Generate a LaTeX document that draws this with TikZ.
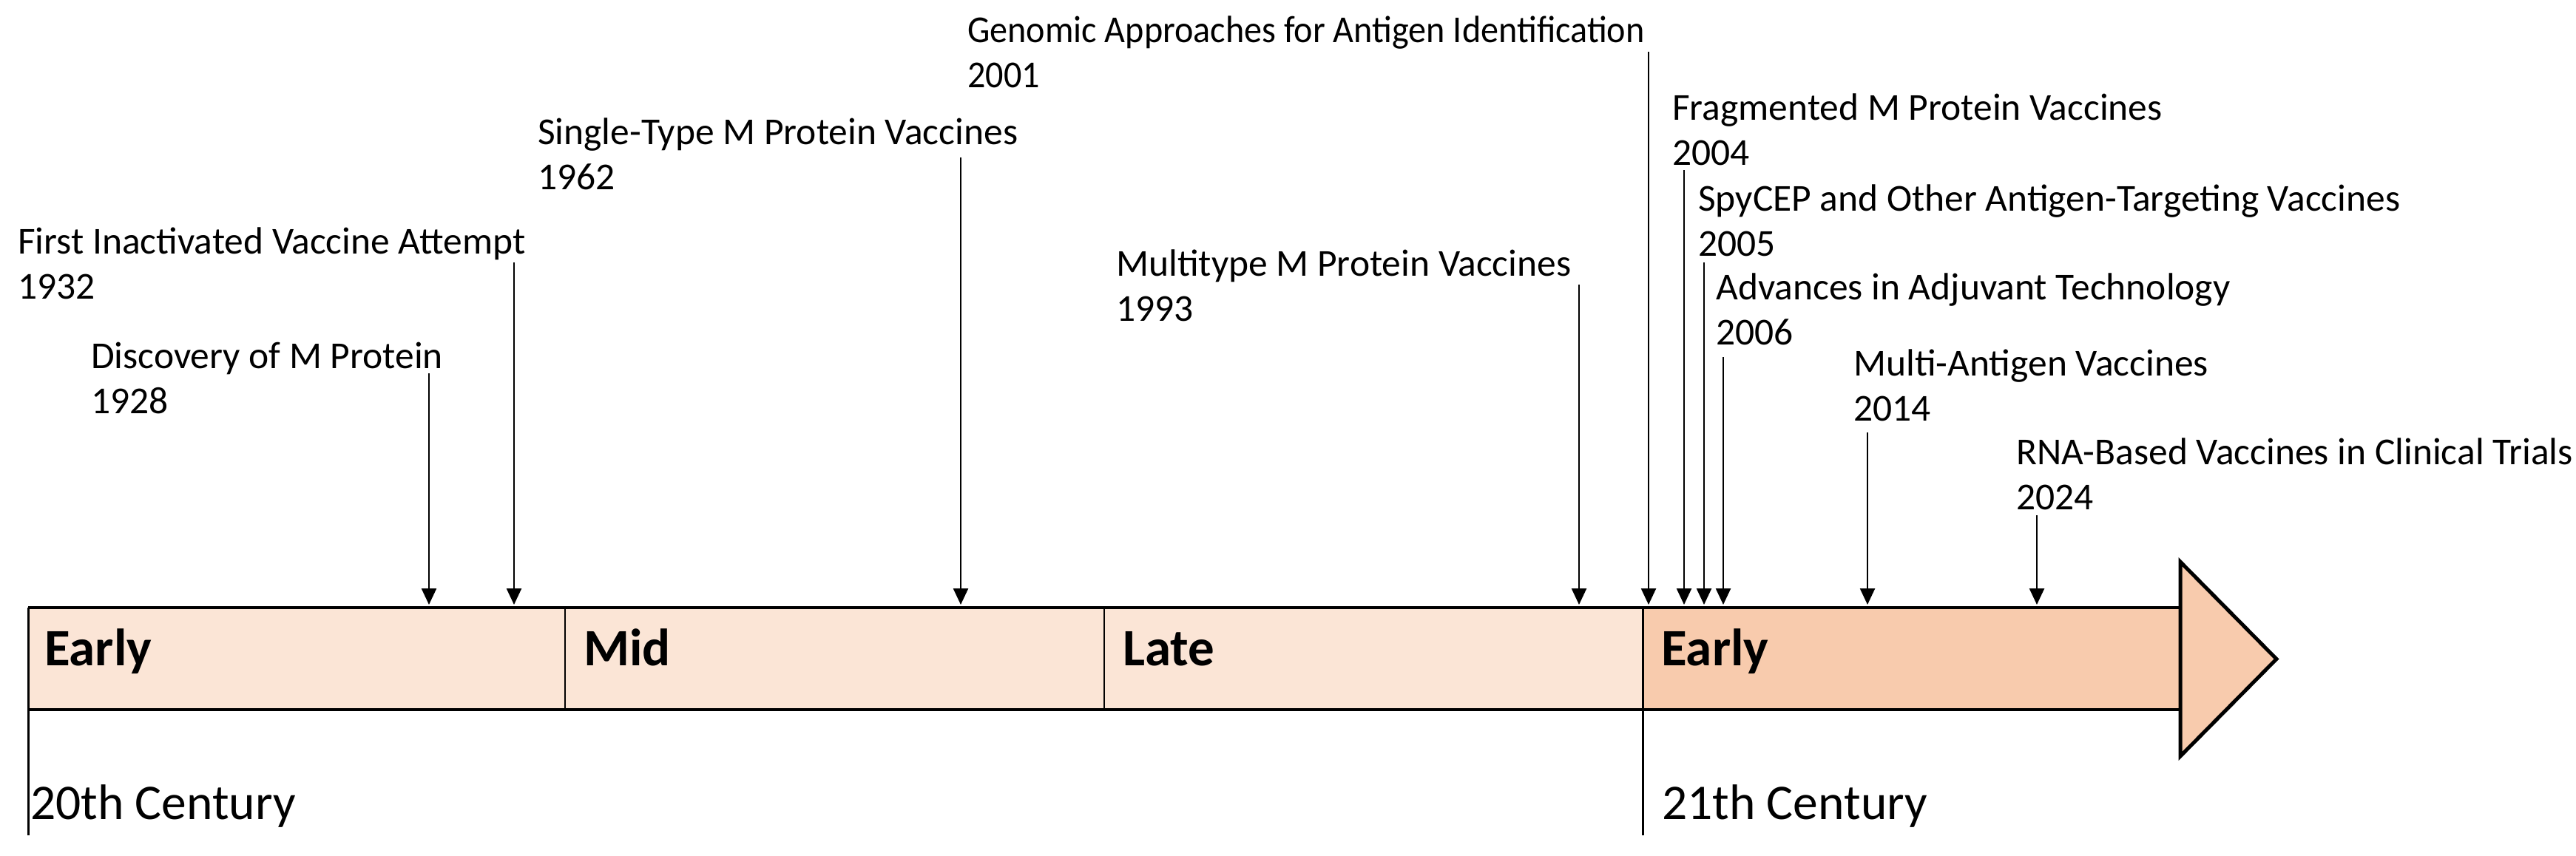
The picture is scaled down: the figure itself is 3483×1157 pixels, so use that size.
\documentclass[tikz,border=0pt]{standalone}
\usepackage{fontspec}
\usepackage{graphicx}
\setmainfont{Carlito}
\usetikzlibrary{arrows.meta}
\definecolor{peachL}{HTML}{FBE5D6}
\definecolor{peachD}{HTML}{F8CBAD}
\begin{document}
\begin{tikzpicture}[x=1pt,y=-1pt,
  seg/.style={anchor=north west, inner sep=0pt, outer sep=0pt, minimum height=138pt},
  seglabel/.style={anchor=base west, inner sep=0pt, font=\fontsize{71}{80}\selectfont\bfseries},
  centlabel/.style={anchor=base west, inner sep=0pt, font=\fontsize{67.5}{80}\selectfont},
  evtext/.style={anchor=base west, inner sep=0pt, font=\fontsize{51.5}{61}\selectfont},
  evarrow/.style={line width=2.5pt, -{Triangle[width=20pt,length=22pt]}, shorten >=4pt},
  border/.style={line width=4pt},
  divider/.style={line width=2.5pt},
  centline/.style={line width=3pt}]
\useasboundingbox (0,0) rectangle (3483,1157);

% bar segments
\node[seg, fill=peachL, minimum width=726pt] (s1) at (38,822) {};
\node[seg, fill=peachL, minimum width=729pt] (s2) at (764,822) {};
\node[seg, fill=peachL, minimum width=728pt] (s3) at (1493,822) {};
\node[seg, fill=peachD, minimum width=727pt] (s4) at (2221,822) {};

% arrow head
\draw[line width=5pt, fill=peachD, line join=miter] (2948,760) -- (3078,891.5) -- (2948,1023) -- cycle;

% borders
\draw[border] (s1.north west) -- (s4.north east);
\draw[border] (s1.south west) -- (s4.south east);
\draw[divider] (s2.north west) -- (s2.south west);
\draw[divider] (s3.north west) -- (s3.south west);

% century lines
\coordinate (c20) at (38,1130);
\coordinate (c21) at (2221,1130);
\draw[centline] (s1.north west) -- (c20);
\draw[centline] (s4.north west) -- (c21);

% segment labels
\node[seglabel] (l1) at (60,900) {Early};
\node[seglabel] (l2) at (789,900) {Mid};
\node[seglabel] (l3) at (1518,900) {Late};
\node[seglabel] (l4) at (2246,900) {Early};

% century labels
\node[centlabel] (k20) at (41,1108) {20th Century};
\node[centlabel] (k21) at (2247,1108) {21th Century};

% events
\node[evtext] (t1932) at (24,343) {\begin{tabular}[t]{@{}l@{}}First Inactivated Vaccine Attempt\\1932\end{tabular}};
\node[evtext] (t1928) at (123,498) {\begin{tabular}[t]{@{}l@{}}Discovery of M Protein\\1928\end{tabular}};
\node[evtext] (t1962) at (727,195) {\begin{tabular}[t]{@{}l@{}}Single-Type M Protein Vaccines\\1962\end{tabular}};
\node[evtext] (t2001) at (1308,57) {\begin{tabular}[t]{@{}l@{}}\scalebox{0.935}[1]{Genomic Approaches for Antigen Identification}\\\scalebox{0.935}[1]{2001}\end{tabular}};
\node[evtext] (t1993) at (1509,373) {\begin{tabular}[t]{@{}l@{}}Multitype M Protein Vaccines\\1993\end{tabular}};
\node[evtext] (t2004) at (2261,162) {\begin{tabular}[t]{@{}l@{}}Fragmented M Protein Vaccines\\2004\end{tabular}};
\node[evtext] (t2005) at (2296,285) {\begin{tabular}[t]{@{}l@{}}SpyCEP and Other Antigen-Targeting Vaccines\\2005\end{tabular}};
\node[evtext] (t2006) at (2320,405) {\begin{tabular}[t]{@{}l@{}}Advances in Adjuvant Technology\\2006\end{tabular}};
\node[evtext] (t2014) at (2506,508) {\begin{tabular}[t]{@{}l@{}}Multi-Antigen Vaccines\\2014\end{tabular}};
\node[evtext] (t2024) at (2726,628) {\begin{tabular}[t]{@{}l@{}}RNA-Based Vaccines in Clinical Trials\\2024\end{tabular}};

% arrow starts
\coordinate (a1928) at (580,505);
\coordinate (a1932) at (695,355);
\coordinate (a1962) at (1299,213);
\coordinate (a1993) at (2135,385);
\coordinate (a2001) at (2229,70);
\coordinate (a2004) at (2277,230);
\coordinate (a2005) at (2304,355);
\coordinate (a2006) at (2330,483);
\coordinate (a2014) at (2525,585);
\coordinate (a2024) at (2754,697);

\foreach \y in {1928,1932,1962,1993,2001,2004,2005,2006,2014,2024}
  \draw[evarrow] (a\y) -- (a\y |- s1.north);
\end{tikzpicture}
\end{document}
